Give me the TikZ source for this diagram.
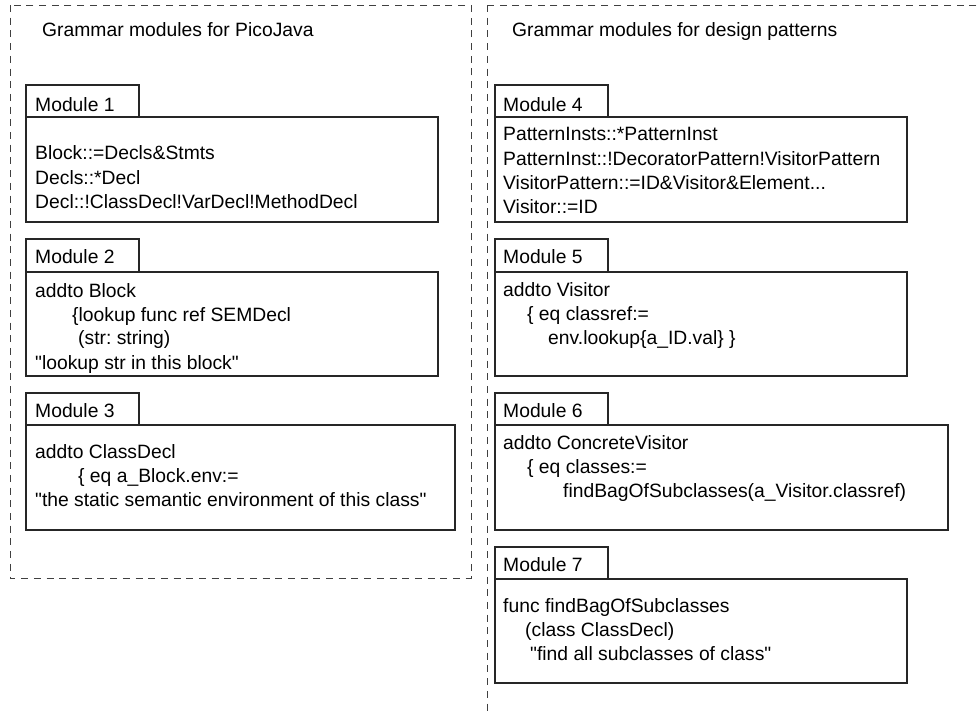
\documentclass[tikz,border=0pt]{standalone}
\usepackage{fontspec}
\setmainfont{Liberation Sans}[Ligatures=TeXOff]
\frenchspacing
\newcommand{\qq}{\symbol{34}}
\begin{document}
\begin{tikzpicture}[x=1pt,y=-1pt,
  modbox/.style={draw=black!85,line width=1.1pt},
  region/.style={draw=black!75,line width=1pt,dash pattern=on 7pt off 5.7pt},
  txt/.style={anchor=base west,inner sep=0pt,font=\fontsize{19.3}{23}\selectfont,text=black}]
\useasboundingbox (0,0) rectangle (978,715);
\begin{scope}
\clip (0,0) rectangle (978,715);
% regions
\draw[region] (10,5) rectangle (471,578);
\draw[region] (487,5) rectangle (1000,740);
\end{scope}
% titles
\node[txt] (t1) at (42,36.7) {Grammar modules for PicoJava};
\node[txt] (t2) at (512,36.7) {Grammar modules for design patterns};
% Module 1
\draw[modbox] (26,85) rectangle (139,117);
\draw[modbox] (26,117) rectangle (438,222);
\node[txt] (m1) at (35,111) {Module 1};
\node[txt] (m1a) at (35,159) {Block::=Decls\&Stmts};
\node[txt] (m1b) at (35,184) {Decls::*Decl};
\node[txt] (m1c) at (35,208) {Decl::!ClassDecl!VarDecl!MethodDecl};
% Module 2
\draw[modbox] (26,239) rectangle (139,272);
\draw[modbox] (26,272) rectangle (438,376);
\node[txt] (m2) at (35,263.3) {Module 2};
\node[txt] (m2a) at (35,297) {addto Block};
\node[txt] (m2b) at (72,321) {\{lookup func ref SEMDecl};
\node[txt] (m2c) at (78,344.5) {(str: string)};
\node[txt] (m2d) at (35,369) {\qq lookup str in this block\qq};
% Module 3
\draw[modbox] (26,393) rectangle (139,425);
\draw[modbox] (26,425) rectangle (455,530);
\node[txt] (m3) at (35,417.3) {Module 3};
\node[txt] (m3a) at (35,458.3) {addto ClassDecl};
\node[txt] (m3b) at (78,482) {\{ eq a\_Block.env:=};
\node[txt] (m3c) at (35,506) {\qq the static semantic environment of this class\qq};
% Module 4
\draw[modbox] (495,85) rectangle (608,117);
\draw[modbox] (495,117) rectangle (907,222);
\node[txt] (m4) at (503,111) {Module 4};
\node[txt] (m4a) at (503,140) {PatternInsts::*PatternInst};
\node[txt] (m4b) at (503,165.5) {PatternInst::!DecoratorPattern!VisitorPattern};
\node[txt] (m4c) at (503,189.5) {VisitorPattern::=ID\&Visitor\&Element...};
\node[txt] (m4d) at (503,213.5) {Visitor::=ID};
% Module 5
\draw[modbox] (495,239) rectangle (608,272);
\draw[modbox] (495,272) rectangle (907,376);
\node[txt] (m5) at (503,263.3) {Module 5};
\node[txt] (m5a) at (503,296) {addto Visitor};
\node[txt] (m5b) at (527,320) {\{ eq classref:=};
\node[txt] (m5c) at (548,344) {env.lookup\{a\_ID.val\} \}};
% Module 6
\draw[modbox] (495,393) rectangle (608,425);
\draw[modbox] (495,425) rectangle (948,530);
\node[txt] (m6) at (503,417.3) {Module 6};
\node[txt] (m6a) at (503,449.5) {addto ConcreteVisitor};
\node[txt] (m6b) at (527,473.5) {\{ eq classes:=};
\node[txt] (m6c) at (563,497.5) {findBagOfSubclasses(a\_Visitor.classref)};
% Module 7
\draw[modbox] (495,547) rectangle (608,579);
\draw[modbox] (495,579) rectangle (907,683);
\node[txt] (m7) at (503,571) {Module 7};
\node[txt] (m7a) at (503,612) {func findBagOfSubclasses};
\node[txt] (m7b) at (525,636.5) {(class ClassDecl)};
\node[txt] (m7c) at (530,660.5) {\qq find all subclasses of class\qq};
\end{tikzpicture}
\end{document}
